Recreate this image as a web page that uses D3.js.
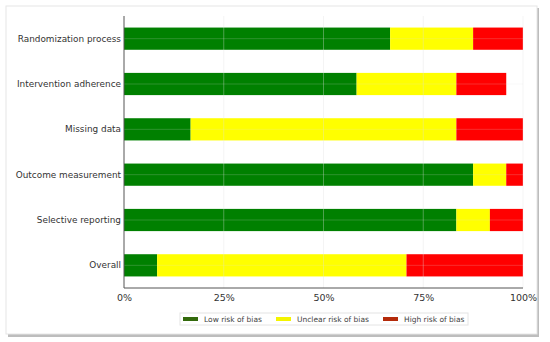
<!DOCTYPE html>
<html>
<head>
<meta charset="utf-8">
<script src="https://cdn.jsdelivr.net/npm/d3@7"></script>
<style>
  body { margin: 0; background: #fff; }
  svg { display: block; font-family: "DejaVu Sans", sans-serif; }
</style>
</head>
<body>
<div id="chart"></div>
<script>
// domains, shares (%) per risk level
const domains = ["Randomization process", "Intervention adherence", "Missing data",
                 "Outcome measurement", "Selective reporting", "Overall"];
const lowRisk     = [66.7, 58.3, 16.7, 87.5, 83.3, 8.3];
const unclearRisk = [20.8, 25.0, 66.6, 8.3, 8.4, 62.5];
const highRisk    = [12.5, 12.5, 16.7, 4.2, 8.3, 29.2];
const xTicks = [0, 25, 50, 75, 100];
const levels = ["Low risk of bias", "Unclear risk of bias", "High risk of bias"];

const W = 550, H = 342;
const svg = d3.select("#chart").append("svg")
  .attr("width", W).attr("height", H);

// card with shadow
svg.append("rect").attr("x", 8).attr("y", 8).attr("width", 531).attr("height", 329)
  .attr("fill", "#bdbdbd");
svg.append("rect").attr("x", 6).attr("y", 6).attr("width", 531).attr("height", 328)
  .attr("fill", "#fff").attr("stroke", "#e6e6e6");

const x = d3.scaleLinear().domain([0, 100]).range([124, 523]);
const y = d3.scaleBand().domain(domains).range([16, 288]).paddingInner(0.51).paddingOuter(0.255);

const colors = ["#008000", "#ffff00", "#ff0000"];
const swatch = ["#336a0c", "#f4f400", "#b42a0a"];

// stacked data
const rows = domains.map((d, i) => ({ domain: d, vals: [lowRisk[i], unclearRisk[i], highRisk[i]] }));
const segs = [];
rows.forEach(r => {
  let acc = 0;
  r.vals.forEach((v, k) => {
    segs.push({ domain: r.domain, x0: acc, x1: acc + v, k });
    acc += v;
  });
});

svg.selectAll("rect.seg").data(segs).enter().append("rect")
  .attr("class", "seg")
  .attr("x", d => x(d.x0))
  .attr("width", d => x(d.x1) - x(d.x0))
  .attr("y", d => y(d.domain))
  .attr("height", y.bandwidth())
  .attr("fill", d => colors[d.k]);

// grid (drawn faintly over the bars)
const grid = svg.append("g").attr("stroke", "#e0e0e0").attr("stroke-opacity", 0.35);
grid.selectAll("line.v").data(xTicks.slice(1)).enter().append("line")
  .attr("x1", d => x(d)).attr("x2", d => x(d)).attr("y1", 16).attr("y2", 288);
grid.selectAll("line.h").data(domains).enter().append("line")
  .attr("x1", 124).attr("x2", 523)
  .attr("y1", d => y(d) + y.bandwidth() / 2).attr("y2", d => y(d) + y.bandwidth() / 2)
  .attr("stroke-opacity", 0.2);

// axes
const xAxis = svg.append("g").attr("transform", "translate(0,288)")
  .call(d3.axisBottom(x).tickValues(xTicks).tickFormat(d => d + "%").tickSize(0).tickPadding(6));
const yAxis = svg.append("g").attr("transform", "translate(124,0)")
  .call(d3.axisLeft(y).tickSize(0).tickPadding(3));
[xAxis, yAxis].forEach(a => {
  a.attr("font-family", "DejaVu Sans");
  a.select(".domain").attr("stroke", "#555");
  a.selectAll("text").attr("fill", "#333");
});
xAxis.attr("font-size", 9.5);
yAxis.attr("font-size", 8.9);
xAxis.select(".domain").attr("d", "M124,0H523");
yAxis.select(".domain").attr("d", "M0,16V288");

// legend
const lg = svg.append("g");
lg.append("rect").attr("x", 180).attr("y", 313).attr("width", 288).attr("height", 12)
  .attr("fill", "#fff").attr("stroke", "#e4e4e4");
const lx = [183, 276, 383];
const items = lg.selectAll("g.item").data(levels).enter().append("g")
  .attr("transform", (d, i) => `translate(${lx[i]},319)`);
items.append("rect").attr("x", 0).attr("y", -2).attr("width", 15).attr("height", 4)
  .attr("fill", (d, i) => swatch[i]);
items.append("text").attr("x", 21).attr("dy", "0.35em")
  .attr("fill", "#444").style("font-size", "7.5px").text(d => d);
</script>
</body>
</html>
